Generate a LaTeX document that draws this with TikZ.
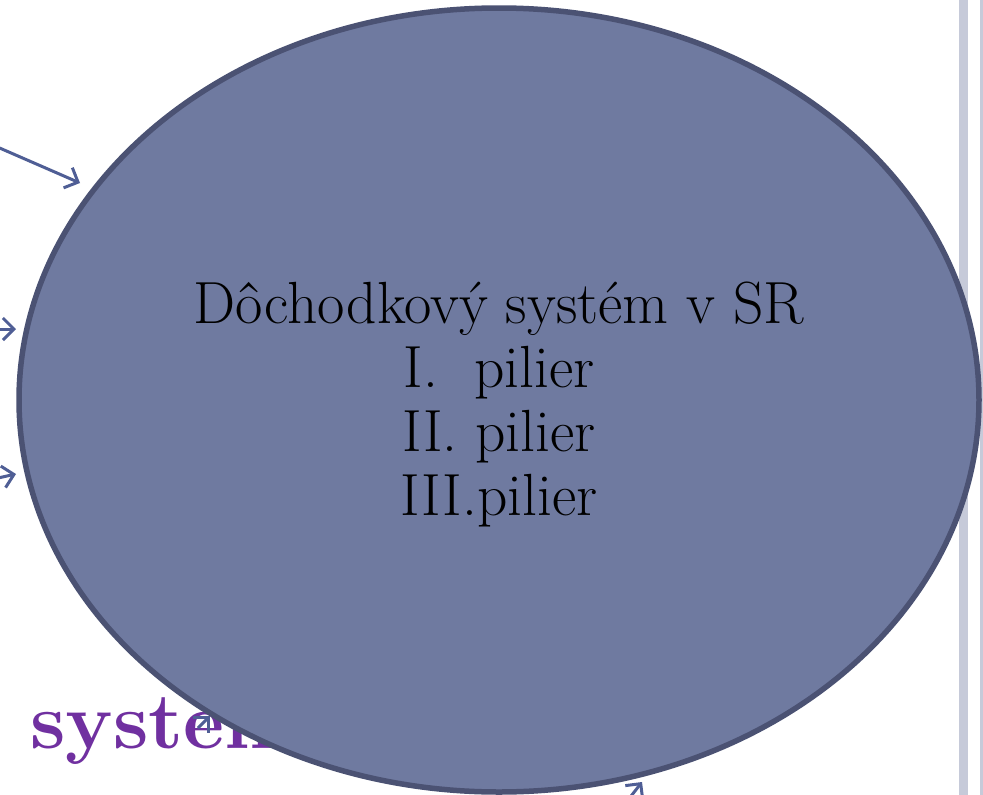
\documentclass[tikz,border=0pt]{standalone}
\usetikzlibrary{arrows.meta,shapes.geometric}
\definecolor{ellfill}{HTML}{6F7AA0}
\definecolor{elldraw}{HTML}{4B5273}
\definecolor{arrcol}{HTML}{4F5E95}
\definecolor{titlepurple}{HTML}{7030A0}
\definecolor{stripe}{HTML}{C6CAD9}
\tikzset{
  pointer/.style={draw=arrcol, line width=3pt, -{Straight Barb[length=11pt,width=22pt,line width=3pt]}},
  bigell/.style={ellipse, draw=elldraw, fill=ellfill, line width=5.5pt, minimum width=960pt, minimum height=784pt, inner sep=0pt},
}
\begin{document}
\begin{tikzpicture}[x=1pt,y=-1pt]
\useasboundingbox (0,0) rectangle (983,795);
\fill[stripe] (959,0) rectangle (968,795);
\fill[stripe] (980,0) rectangle (983,795);
\node[anchor=base west, text=titlepurple, font=\fontsize{80}{90}\selectfont\bfseries, inner sep=0pt] (title) at (-484,748) {Dôchodkový systém};
\coordinate (a1s) at (-5,146);
\coordinate (a1e) at (80,183);
\coordinate (a2s) at (-20,329);
\coordinate (a2e) at (16,329);
\coordinate (a3s) at (-20,482);
\coordinate (a3e) at (16,474);
\coordinate (a4s) at (628,800);
\coordinate (a4e) at (642,782);
\coordinate (a5s) at (198,728);
\coordinate (a5e) at (210,716);
\draw[pointer] (a1s) -- (a1e);
\draw[pointer] (a2s) -- (a2e);
\draw[pointer] (a3s) -- (a3e);
\draw[pointer] (a4s) -- (a4e);
\draw[pointer] (a5s) -- (a5e);
\node[bigell] (e) at (499,400) {};
\node[align=center, font=\fontsize{59.5}{64}\selectfont, inner sep=0pt] (t) at (499,405) {Dôchodkový systém v SR\\I.\ \ pilier\\II. pilier\\III.pilier};
\end{tikzpicture}
\end{document}
